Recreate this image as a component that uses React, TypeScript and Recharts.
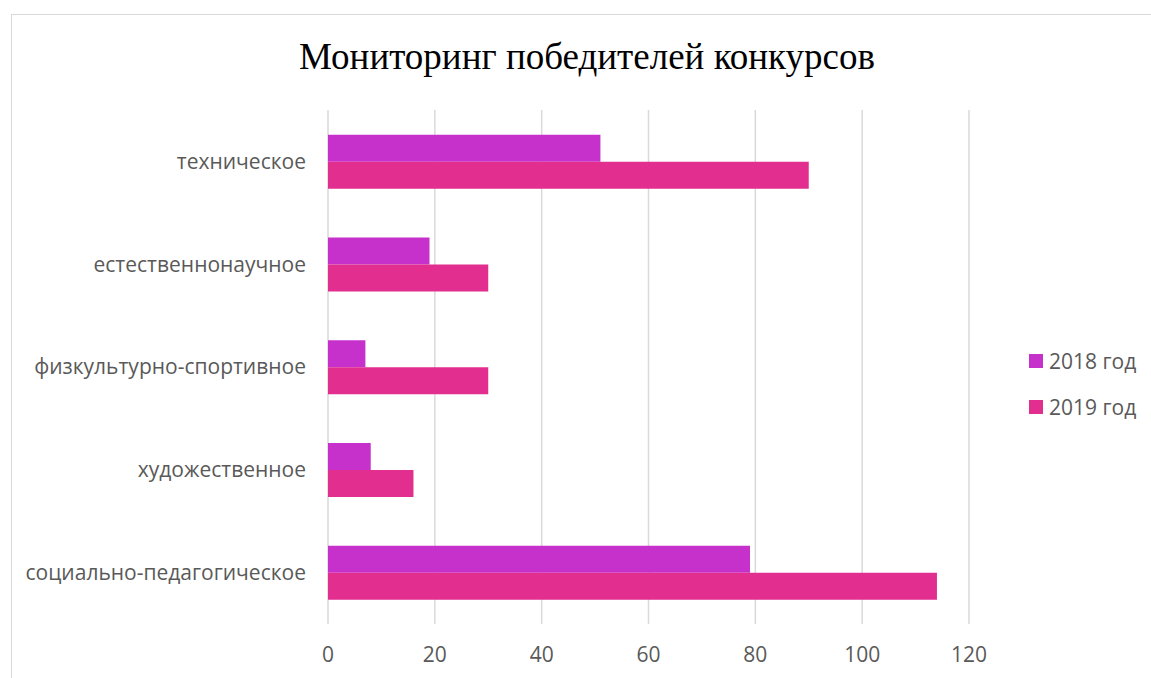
import React from "react";
import {
  BarChart,
  Bar,
  XAxis,
  YAxis,
  CartesianGrid,
} from "recharts";

const categories = [
  "техническое",
  "естественнонаучное",
  "физкультурно-спортивное",
  "художественное",
  "социально-педагогическое",
];
const values2018 = [51, 19, 7, 8, 79];
const values2019 = [90, 30, 30, 16, 114];
const xTicks = [0, 20, 40, 60, 80, 100, 120];

const series = [
  { key: "y2018", name: "2018 год", color: "#C630CB" },
  { key: "y2019", name: "2019 год", color: "#E22E8F" },
];

const data = categories.map((name, i) => ({
  name,
  y2018: values2018[i],
  y2019: values2019[i],
}));

const FONT = "'Open Sans', sans-serif";
const TEXT = "#595959";

export default function App() {
  return (
    <div
      style={{
        position: "absolute",
        left: 0,
        top: 0,
        width: 1151,
        height: 678,
        background: "#fff",
        overflow: "hidden",
      }}
    >
      {/* chart frame runs past the right and bottom edges */}
      <div
        style={{
          position: "absolute",
          left: 11,
          top: 14,
          width: 1200,
          height: 700,
          border: "1px solid #d9d9d9",
        }}
      />
      <div
        style={{
          position: "absolute",
          left: 0,
          width: 1174,
          top: 34,
          textAlign: "center",
          fontFamily: "'Liberation Serif', 'Times New Roman', serif",
          fontSize: 37,
          color: "#000",
          lineHeight: "46px",
        }}
      >
        Мониторинг победителей конкурсов
      </div>
      <div style={{ position: "absolute", left: 0, top: 0 }}>
        <BarChart
          width={1151}
          height={678}
          data={data}
          layout="vertical"
          margin={{ top: 110, right: 182, bottom: 0, left: 0 }}
          barCategoryGap="24%"
          barGap={0}
        >
          <CartesianGrid horizontal={false} stroke="#d9d9d9" strokeWidth={1.5} />
          <XAxis
            type="number"
            domain={[0, 120]}
            ticks={xTicks}
            axisLine={false}
            tickLine={false}
            tickSize={0}
            tickMargin={23}
            height={54}
            tick={{ fill: TEXT, fontSize: 21, fontFamily: FONT }}
          />
          <YAxis
            type="category"
            dataKey="name"
            width={328}
            axisLine={false}
            tickLine={false}
            tickSize={0}
            tickMargin={22}
            tick={{ fill: TEXT, fontSize: 21, fontFamily: FONT }}
          />
          {series.map((s) => (
            <Bar
              key={s.key}
              dataKey={s.key}
              name={s.name}
              fill={s.color}
              isAnimationActive={false}
            />
          ))}
        </BarChart>
      </div>
      {/* legend */}
      <div style={{ position: "absolute", left: 1029, top: 338 }}>
        {series.map((s) => (
          <div
            key={s.key}
            style={{
              display: "flex",
              alignItems: "center",
              height: 46,
              fontFamily: FONT,
              fontSize: 21,
              color: TEXT,
            }}
          >
            <span
              style={{
                width: 14,
                height: 14,
                background: s.color,
                display: "inline-block",
                marginRight: 6,
              }}
            />
            {s.name}
          </div>
        ))}
      </div>
    </div>
  );
}
